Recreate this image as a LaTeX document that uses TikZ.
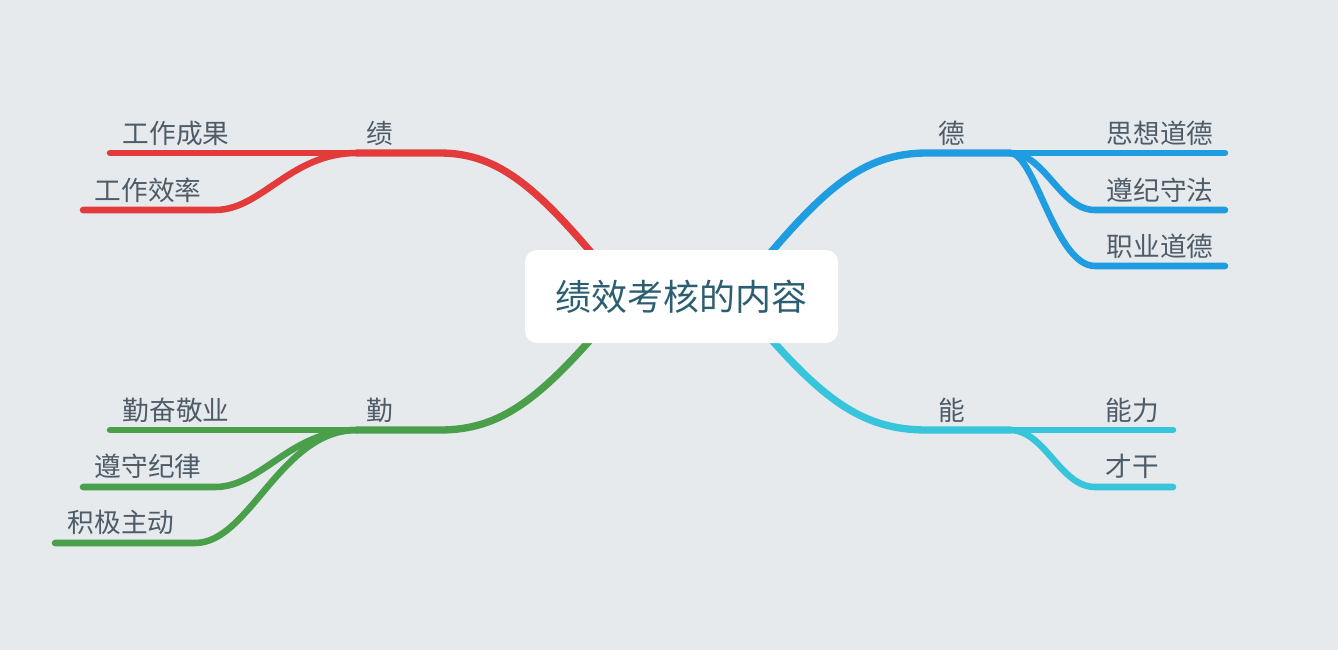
\documentclass[tikz,border=0pt]{standalone}
\usepackage{fontspec}
\setmainfont{Noto Sans CJK SC}
\usepackage{tikz}
\usetikzlibrary{calc,backgrounds}
\usepackage{xcolor}
\definecolor{bg}{RGB}{230,234,237}
\definecolor{jired}{RGB}{227,59,59}
\definecolor{deblue}{RGB}{31,157,224}
\definecolor{qingreen}{RGB}{74,160,74}
\definecolor{nengcyan}{RGB}{54,197,218}
\definecolor{ink}{RGB}{78,92,104}
\definecolor{title}{RGB}{44,94,114}

\begin{document}
\begin{tikzpicture}[x=0.75pt,y=-0.75pt,
  lbl/.style={inner sep=0pt,text=ink,font=\fontsize{20}{24}\selectfont},
  trunk/.style={line width=5.5pt,line cap=round},
  twig/.style={line width=4.9pt,line cap=round}]
\useasboundingbox (0,0) rectangle (1338,650);
% centre topic
\node[fill=white,rounded corners=9pt,minimum width=234.75pt,minimum height=69.75pt,
  text=title,font=\fontsize{27}{32}\selectfont](main) at (681.5,296.5){绩效考核的内容};
% labels
\foreach \t/\x/\y/\n in {绩/380/133/ji,勤/380/410/qin,德/952/133/de,能/952/410/neng,
  工作成果/176/133/jiA,工作效率/148/190/jiB,
  勤奋敬业/176/410/qinA,遵守纪律/148/466/qinB,积极主动/121/522/qinC,
  思想道德/1160/133/deA,遵纪守法/1160/190/deB,职业道德/1160/246/deC,
  能力/1132/410/nengA,才干/1132/466/nengB}{\node[lbl](\n) at (\x,\y){\t};}
\begin{pgfonlayer}{background}
\fill[bg] (0,0) rectangle (1338,650);
% (a) 绩
\coordinate (jiR) at (440,153); \coordinate (jiL) at (357,153);
\coordinate (jiA1) at (110,153); \coordinate (jiB1) at (83,210);
\draw[trunk,jired] ($(main)+(-71.5,-21.5)$) .. controls (540,190) and (500,153) .. (jiR) -- (jiL);
\draw[twig,jired] (jiL) -- (jiA1);
\draw[twig,jired] (jiL) .. controls (290,153) and (262,210) .. (215,210) -- (jiB1);
% (b) 勤
\coordinate (qinR) at (440,430); \coordinate (qinL) at (357,430);
\coordinate (qinA1) at (110,430); \coordinate (qinB1) at (83,487); \coordinate (qinC1) at (55,543);
\draw[trunk,qingreen] ($(main)+(-71.5,20.5)$) .. controls (540,400) and (500,430) .. (qinR) -- (qinL);
\draw[twig,qingreen] (qinL) -- (qinA1);
\draw[twig,qingreen] (qinL) .. controls (290,430) and (262,487) .. (215,487) -- (qinB1);
\draw[twig,qingreen] (qinL) .. controls (280,430) and (250,543) .. (195,543) -- (qinC1);
% (c) 德
\coordinate (deL) at (927,153); \coordinate (deR) at (1010,153);
\coordinate (deA1) at (1225,153); \coordinate (deB1) at (1225,210); \coordinate (deC1) at (1225,266);
\draw[trunk,deblue] ($(main)+(70.5,-21.5)$) .. controls (822,190) and (862,153) .. (deL) -- (deR);
\draw[twig,deblue] (deR) -- (deA1);
\draw[twig,deblue] (deR) .. controls (1045,153) and (1060,210) .. (1095,210) -- (deB1);
\draw[twig,deblue] (deR) .. controls (1035,153) and (1055,266) .. (1095,266) -- (deC1);
% (d) 能
\coordinate (nengL) at (927,430); \coordinate (nengR) at (1010,430);
\coordinate (nengA1) at (1173,430); \coordinate (nengB1) at (1173,487);
\draw[trunk,nengcyan] ($(main)+(70.5,20.5)$) .. controls (822,400) and (862,430) .. (nengL) -- (nengR);
\draw[twig,nengcyan] (nengR) -- (nengA1);
\draw[twig,nengcyan] (nengR) .. controls (1045,430) and (1060,487) .. (1095,487) -- (nengB1);
\end{pgfonlayer}
\end{tikzpicture}
\end{document}
